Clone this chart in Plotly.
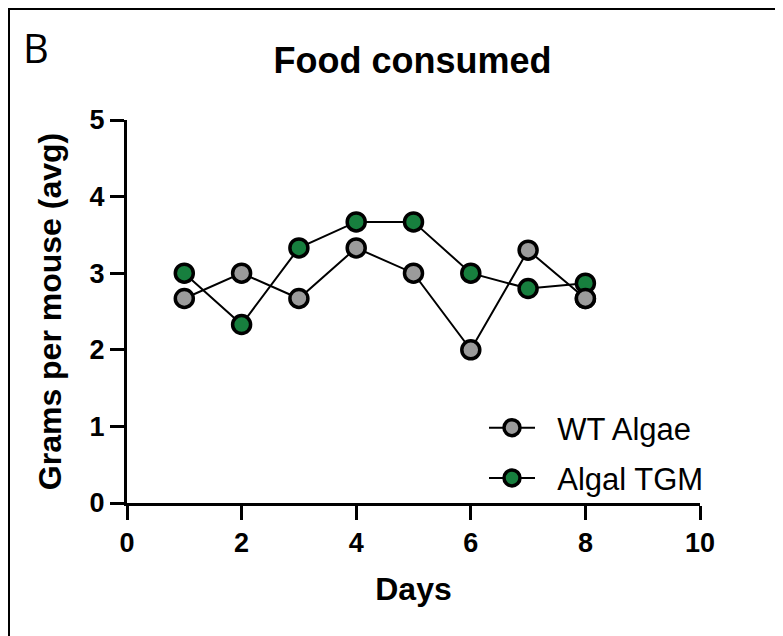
import plotly.graph_objects as go

days = [1, 2, 3, 4, 5, 6, 7, 8]
wt_algae = [2.67, 3.0, 2.67, 3.33, 3.0, 2.0, 3.3, 2.67]
algal_tgm = [3.0, 2.33, 3.33, 3.67, 3.67, 3.0, 2.8, 2.87]
x_ticks = [0, 2, 4, 6, 8, 10]
y_ticks = [0, 1, 2, 3, 4, 5]
series_names = ["WT Algae", "Algal TGM"]

GRAY = "#9b9b9b"
GREEN = "#177f3e"
FONT_B = "Liberation Sans"
PAD = "\u00a0\u00a0"  # gap between legend symbol and label

# page body has an 8px margin, so the figure is laid out in page coords - 8
OFF = 8
W, H = 783 - OFF, 636 - OFF
L, T = 127 - OFF, 120 - OFF
pw, ph = 573, 383
R, B = W - L - pw, H - T - ph

def px_x(px):
    return (px - OFF - L) / pw

def px_y(py):
    return (T + ph - (py - OFF)) / ph

mk = dict(size=18, line=dict(color="black", width=3.5))

fig = go.Figure()
fig.add_trace(go.Scatter(
    x=days, y=wt_algae, mode="lines+markers", name=PAD + series_names[0],
    line=dict(color="black", width=2),
    marker=dict(color=GRAY, **mk),
    legendgroup="a", cliponaxis=False,
))
fig.add_trace(go.Scatter(
    x=days, y=algal_tgm, mode="lines+markers", name=PAD + series_names[1],
    line=dict(color="black", width=2),
    marker=dict(color=GREEN, **mk),
    legendgroup="b", cliponaxis=False,
))
# last WT point sits on top of the TGM point in the original
fig.add_trace(go.Scatter(
    x=days[-1:], y=wt_algae[-1:], mode="markers", showlegend=False,
    marker=dict(color=GRAY, **mk),
    cliponaxis=False, hoverinfo="skip",
))

axis_common = dict(
    showgrid=False, zeroline=False, showline=True, linecolor="black", linewidth=3,
    ticks="outside", ticklen=14, tickwidth=3, tickcolor="black", automargin=False,
    tickfont=dict(family=FONT_B, size=27, color="black", weight="bold"),
)

fig.update_layout(
    width=W, height=H,
    margin=dict(l=L, r=R, t=T, b=B),
    paper_bgcolor="white", plot_bgcolor="white",
    title=dict(text="<b>Food consumed</b>", x=px_x(412.5), xref="paper", xanchor="center",
               y=1 - (60 - OFF) / H, yanchor="middle",
               font=dict(family=FONT_B, size=36, color="black")),
    xaxis=dict(range=[0, 10], tickvals=x_ticks, ticktext=[str(v) for v in x_ticks],
               title=dict(text="<b>Days</b>", font=dict(family=FONT_B, size=32, color="black"), standoff=21),
               **axis_common),
    yaxis=dict(range=[0, 5], tickvals=y_ticks, ticktext=[str(v) for v in y_ticks],
               title=dict(text="<b>Grams per mouse (avg)</b>", font=dict(family=FONT_B, size=32, color="black"), standoff=19),
               **axis_common),
    legend=dict(x=px_x(484), y=px_y(401), xanchor="left", yanchor="top",
                font=dict(family=FONT_B, size=31, color="black"),
                bgcolor="rgba(0,0,0,0)", traceorder="grouped", tracegroupgap=7,
                itemwidth=46),
    showlegend=True,
)

fig.add_annotation(text="B", xref="paper", yref="paper", x=px_x(21), y=px_y(48),
                   xanchor="left", yanchor="middle", showarrow=False,
                   font=dict(family="Open Sans", size=40, color="black"))

fig.add_shape(type="rect", xref="paper", yref="paper",
              x0=px_x(OFF + 1), x1=px_x(800), y0=px_y(660), y1=px_y(OFF + 1),
              line=dict(color="black", width=2), fillcolor="rgba(0,0,0,0)", layer="below")

fig.write_html("out.html")
